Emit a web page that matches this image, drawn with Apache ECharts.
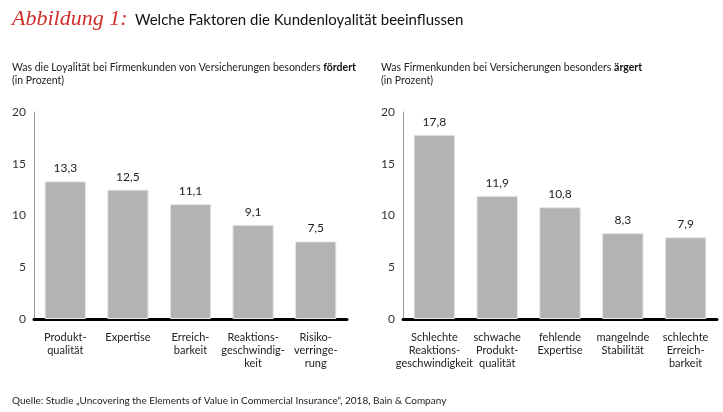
<!DOCTYPE html>
<html>
<head>
<meta charset="utf-8">
<script src="https://cdn.jsdelivr.net/npm/echarts@6/dist/echarts.min.js"></script>
<style>
  html, body { margin: 0; padding: 0; background: #fff; }
  #chart { width: 723px; height: 412px; }
</style>
</head>
<body>
<div id="chart"></div>
<script>
// Daten
var leftCategories = ['Produkt-\nqualität', 'Expertise', 'Erreich-\nbarkeit', 'Reaktions-\ngeschwindig-\nkeit', 'Risiko-\nverringe-\nrung'];
var leftValues = [13.3, 12.5, 11.1, 9.1, 7.5];
var rightCategories = ['Schlechte\nReaktions-\ngeschwindigkeit', 'schwache\nProdukt-\nqualität', 'fehlende\nExpertise', 'mangelnde\nStabilität', 'schlechte\nErreich-\nbarkeit'];
var rightValues = [17.8, 11.9, 10.8, 8.3, 7.9];
var yTicks = [0, 5, 10, 15, 20];

var chart = echarts.init(document.getElementById('chart'));
var font = 'Lato, "Noto Sans", sans-serif';

function fmt(v) {
  return v.toFixed(1).replace('.', ',');
}

function xAxis(idx, cats) {
  return {
    type: 'category',
    gridIndex: idx,
    data: cats,
    axisLine: { lineStyle: { color: '#000', width: 3 } },
    axisTick: { show: false },
    axisLabel: {
      interval: 0, color: '#222', fontSize: 11, lineHeight: 13,
      margin: 12, fontFamily: font
    }
  };
}

function yAxis(idx) {
  return {
    type: 'value',
    gridIndex: idx,
    min: yTicks[0],
    max: yTicks[yTicks.length - 1],
    interval: 5,
    axisLine: { show: true, lineStyle: { color: '#999', width: 1 } },
    axisTick: { show: false },
    splitLine: { show: false },
    axisLabel: { color: '#333', fontSize: 12, margin: 8, fontFamily: font }
  };
}

function bars(idx, values) {
  return {
    type: 'bar',
    xAxisIndex: idx,
    yAxisIndex: idx,
    data: values,
    barCategoryGap: '34%',
    itemStyle: { color: '#b3b3b3', borderColor: '#e6e6e6', borderWidth: 1 },
    label: {
      show: true, position: 'top', distance: 7, color: '#222',
      fontSize: 12, fontFamily: font,
      formatter: function (p) { return fmt(p.value); }
    },
    silent: true
  };
}

var subRich = {
  n: { fontFamily: font, fontSize: 10.5, color: '#222', fontWeight: 'normal', lineHeight: 13 },
  f: { fontFamily: font, fontSize: 10.5, color: '#111', fontWeight: 'bold', lineHeight: 13 }
};

var option = {
  backgroundColor: '#fff',
  animation: false,
  title: [{
    text: 'Abbildung 1:',
    left: 7, top: 3,
    textStyle: { fontFamily: '"Liberation Serif", serif', fontStyle: 'italic', fontWeight: 'normal', fontSize: 22, color: '#d12f2a' }
  }, {
    text: 'Welche Faktoren die Kundenloyalität beeinflussen',
    left: 130, top: 8,
    textStyle: { fontFamily: font, fontSize: 15, fontWeight: 'normal', color: '#111' }
  }, {
    text: '{n|Was die Loyalität bei Firmenkunden von Versicherungen besonders }{f|fördert}\n{n|(in Prozent)}',
    left: 7, top: 56,
    textStyle: { fontWeight: 'normal', rich: subRich }
  }, {
    text: '{n|Was Firmenkunden bei Versicherungen besonders }{f|ärgert}\n{n|(in Prozent)}',
    left: 376, top: 56,
    textStyle: { fontWeight: 'normal', rich: subRich }
  }, {
    text: 'Quelle: Studie „Uncovering the Elements of Value in Commercial Insurance“, 2018, Bain & Company',
    left: 7, top: 391,
    textStyle: { fontFamily: font, fontSize: 10, fontWeight: 'normal', color: '#222' }
  }],
  grid: [
    { left: 34, right: 376, top: 112, bottom: 93 },
    { left: 403, right: 6, top: 112, bottom: 93 }
  ],
  xAxis: [xAxis(0, leftCategories), xAxis(1, rightCategories)],
  yAxis: [yAxis(0), yAxis(1)],
  series: [bars(0, leftValues), bars(1, rightValues)]
};

chart.setOption(option);
</script>
</body>
</html>
